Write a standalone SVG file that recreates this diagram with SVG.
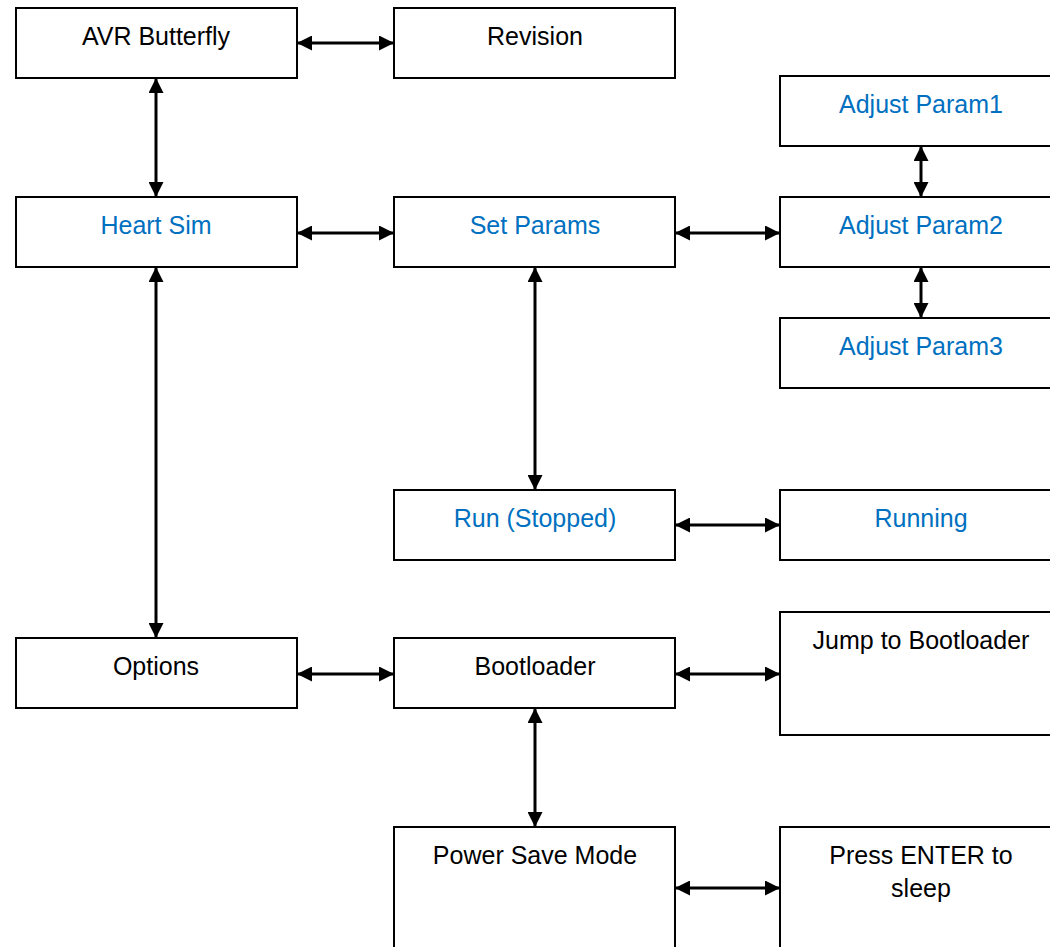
<svg xmlns="http://www.w3.org/2000/svg" width="1050" height="947" viewBox="0 0 1050 947">
<style>
.box{fill:#fff;stroke:#000;stroke-width:2}
.t{font-family:"Liberation Sans",Arial,sans-serif;font-size:25px;text-anchor:middle;fill:#000}
.b{fill:#0070C0}
.c{stroke:#000;stroke-width:3;fill:none;marker-start:url(#ah);marker-end:url(#ah)}
</style>
<defs>
<marker id="ah" markerUnits="userSpaceOnUse" markerWidth="15" markerHeight="15" viewBox="0 0 15 15" refX="14" refY="7.5" orient="auto-start-reverse">
<path d="M0,0 L15,7.5 L0,15 z" fill="#000"/>
</marker>
</defs>
<rect width="1050" height="947" fill="#fff"/>
<g id="connectors">
<line class="c" x1="298" y1="43" x2="393" y2="43"/>
<line class="c" x1="156" y1="79" x2="156" y2="196"/>
<line class="c" x1="298" y1="233" x2="393" y2="233"/>
<line class="c" x1="676" y1="233" x2="779" y2="233"/>
<line class="c" x1="921" y1="147" x2="921" y2="196"/>
<line class="c" x1="921" y1="268" x2="921" y2="317"/>
<line class="c" x1="156" y1="268" x2="156" y2="637"/>
<line class="c" x1="535" y1="268" x2="535" y2="489"/>
<line class="c" x1="676" y1="525" x2="779" y2="525"/>
<line class="c" x1="298" y1="674" x2="393" y2="674"/>
<line class="c" x1="676" y1="674" x2="779" y2="674"/>
<line class="c" x1="535" y1="709" x2="535" y2="826"/>
<line class="c" x1="676" y1="888" x2="779" y2="888"/>
</g>
<g id="avr"><rect class="box" x="16" y="8" width="281" height="70"/><text class="t" x="156" y="45">AVR Butterfly</text></g>
<g id="revision"><rect class="box" x="394" y="8" width="281" height="70"/><text class="t" x="535" y="45">Revision</text></g>
<g id="param1"><rect class="box" x="780" y="76" width="281" height="70"/><text class="t b" x="921" y="113">Adjust Param1</text></g>
<g id="heartsim"><rect class="box" x="16" y="197" width="281" height="70"/><text class="t b" x="156" y="234">Heart Sim</text></g>
<g id="setparams"><rect class="box" x="394" y="197" width="281" height="70"/><text class="t b" x="535" y="234">Set Params</text></g>
<g id="param2"><rect class="box" x="780" y="197" width="281" height="70"/><text class="t b" x="921" y="234">Adjust Param2</text></g>
<g id="param3"><rect class="box" x="780" y="318" width="281" height="70"/><text class="t b" x="921" y="355">Adjust Param3</text></g>
<g id="run"><rect class="box" x="394" y="490" width="281" height="70"/><text class="t b" x="535" y="527">Run (Stopped)</text></g>
<g id="running"><rect class="box" x="780" y="490" width="281" height="70"/><text class="t b" x="921" y="527">Running</text></g>
<g id="options"><rect class="box" x="16" y="638" width="281" height="70"/><text class="t" x="156" y="675">Options</text></g>
<g id="bootloader"><rect class="box" x="394" y="638" width="281" height="70"/><text class="t" x="535" y="675">Bootloader</text></g>
<g id="jump"><rect class="box" x="780" y="612" width="281" height="123"/><text class="t" x="921" y="649">Jump to Bootloader</text></g>
<g id="powersave"><rect class="box" x="394" y="827" width="281" height="140"/><text class="t" x="535" y="864">Power Save Mode</text></g>
<g id="sleep"><rect class="box" x="780" y="827" width="281" height="140"/><text class="t" x="921" y="864">Press ENTER to</text><text class="t" x="921" y="897">sleep</text></g>
</svg>
